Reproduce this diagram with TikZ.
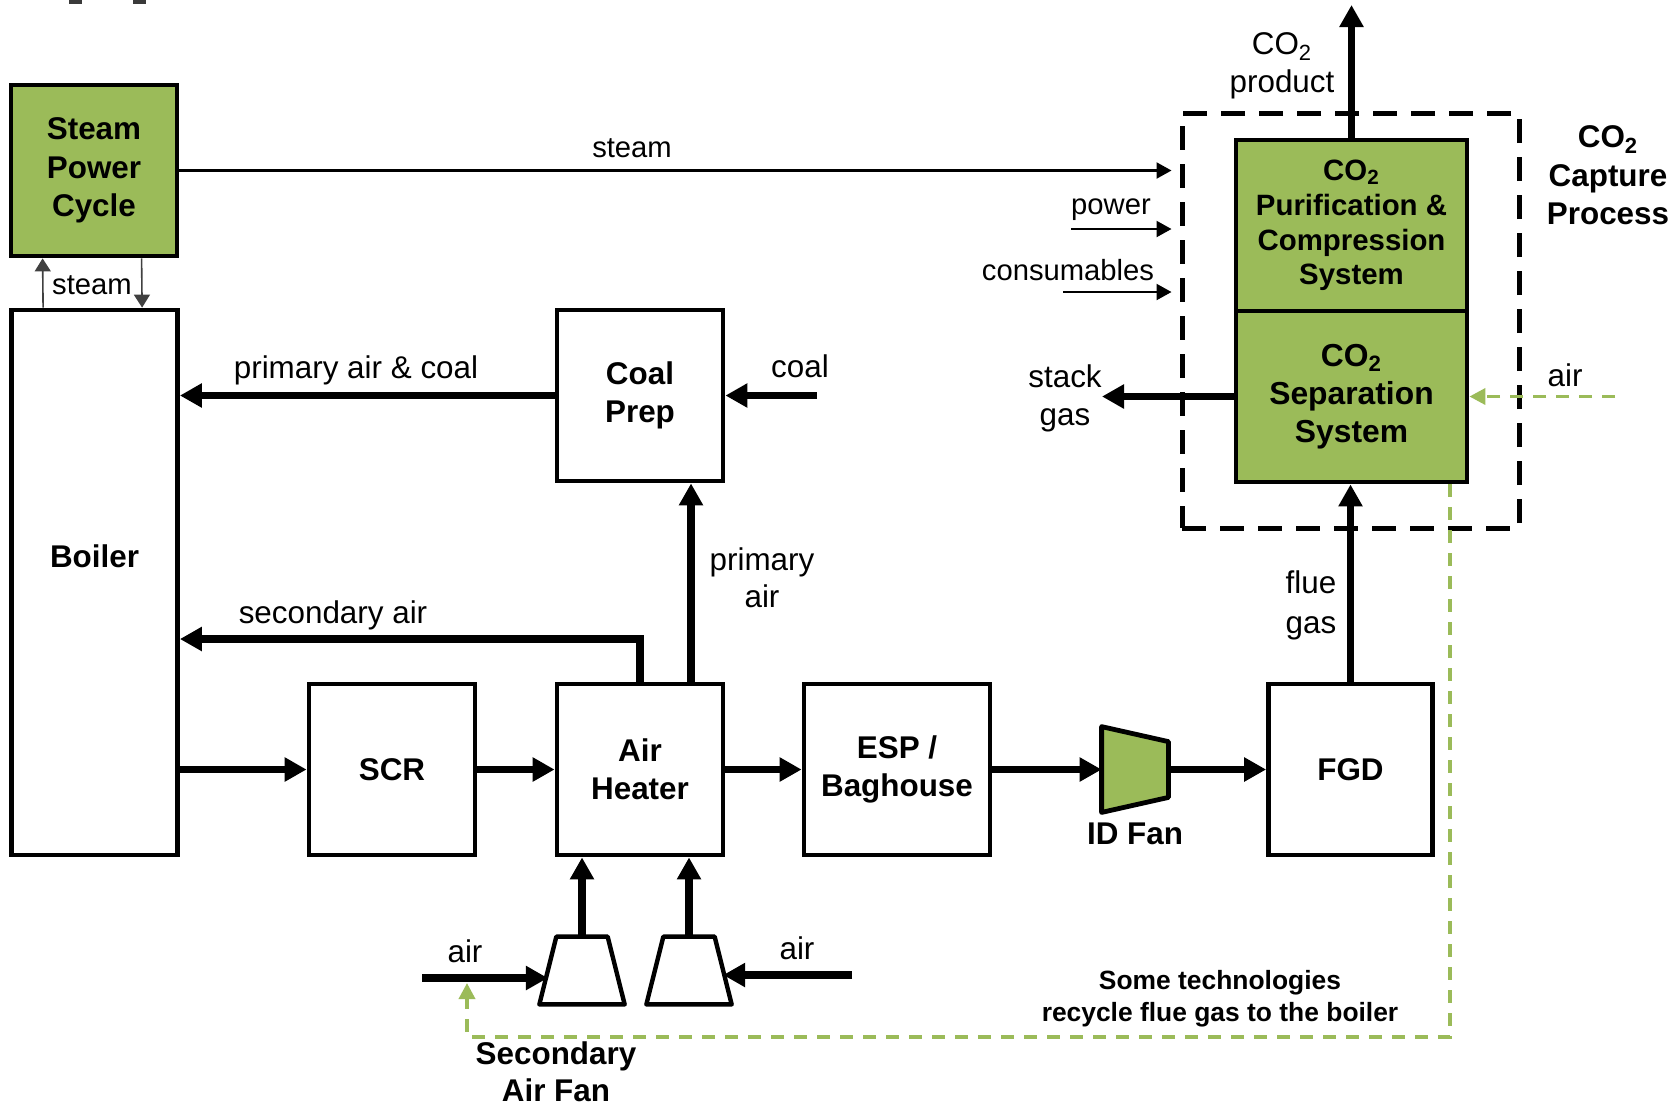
\documentclass[tikz,border=0pt]{standalone}
\usepackage{fontspec}
\setmainfont{Liberation Sans}
\usepackage{tikz}
\usetikzlibrary{arrows.meta,positioning,calc}
\definecolor{unitgreen}{RGB}{155,187,89}
\definecolor{steamgray}{RGB}{64,64,64}
\definecolor{specgray}{RGB}{58,58,58}

\begin{document}
\begin{tikzpicture}[
  x=0.5pt, y=-0.5pt,
  unitbox/.style={draw, line width=2.4pt, minimum width=83pt, minimum height=85.5pt,
                  inner sep=0pt, align=center, font=\bfseries\fontsize{15.7}{19.2}\selectfont},
  greenbox/.style={unitbox, fill=unitgreen, minimum width=115.5pt},
  fanspot/.style={minimum width=33.75pt, minimum height=33.5pt, inner sep=0pt},
  fanline/.style={line width=2.2pt, line join=round},
  arr/.style={-{Triangle[length=11pt,width=11.5pt]}, line width=3.6pt},
  thinarr/.style={-{Triangle[length=7.5pt,width=8pt]}, line width=1.1pt},
  steamarr/.style={-{Triangle[length=6.5pt,width=8pt]}, line width=0.8pt, draw=steamgray},
  recyc/.style={-{Triangle[length=8pt,width=8pt]}, unitgreen, line width=1.8pt,
                dash pattern=on 6.5pt off 5pt},
  lbl/.style={font=\fontsize{15.7}{19}\selectfont, align=center, inner sep=0pt},
  slbl/.style={font=\fontsize{14.6}{17}\selectfont, inner sep=0pt},
  boldlbl/.style={font=\bfseries\fontsize{15.7}{18.5}\selectfont, align=center, inner sep=0pt},
  note/.style={font=\bfseries\fontsize{13.2}{16}\selectfont, align=center, inner sep=0pt}
]
\useasboundingbox (0,0) rectangle (1675,1105);
\fill[specgray] (69,0) rectangle (82,4);
\fill[specgray] (133,0) rectangle (146,4);

% process units
\node[unitbox, fill=unitgreen] (spc) at (94,170.5) {Steam\\Power\\Cycle};
\node[unitbox, minimum height=272.5pt] (boiler) at (94.5,582.5) {\raisebox{26pt}{Boiler}};
\node[unitbox] (coalprep) at (640,395.5) {Coal\\Prep};
\node[unitbox] (scr) at (392,769.5) {SCR};
\node[unitbox] (ah) at (640,769.5) {Air\\Heater};
\node[unitbox, minimum width=93pt] (esp) at (897,769.5) {ESP /\\Baghouse};
\node[unitbox, minimum width=82pt] (fgd) at (1350.5,769.5) {FGD};

% capture process
\node[draw, line width=2.5pt, dash pattern=on 12pt off 7pt, minimum width=168.5pt,
      minimum height=207.5pt, inner sep=0pt] (capbox) at (1350.5,320.5) {};
\node[greenbox, font=\bfseries\fontsize{14.7}{17.4}\selectfont] (pur) at (1351.5,225.5)
  {CO\textsubscript{2}\\Purification \&\\Compression\\System};
\node[greenbox, font=\bfseries\fontsize{15.9}{19}\selectfont] (sep) at (1351.5,396.5)
  {CO\textsubscript{2}\\Separation\\System};
\node[boldlbl, font=\bfseries\fontsize{15.7}{19.2}\selectfont] at (1608,175.5)
  {CO\textsubscript{2}\\Capture\\Process};

% fans
\node[minimum width=33pt, minimum height=42.5pt, inner sep=0pt] (idfan) at (1135,769.5) {};
\draw[fanline, line width=2.4pt, fill=unitgreen]
  (idfan.north west) -- ($(idfan.north east)+(0,15)$) -- ($(idfan.south east)+(0,-15)$)
  -- (idfan.south west) -- cycle;
\node[boldlbl, below=5pt of idfan] {ID Fan};
\node[fanspot] (fan1) at (582,970.5) {};
\node[fanspot] (fan2) at (689,970.5) {};
\foreach \f in {fan1,fan2}
  \draw[fanline] ($(\f.north west)+(8.5,0)$) -- ($(\f.north east)+(-8.5,0)$)
    -- ($(\f.south east)+(8.5,0)$) -- ($(\f.south west)+(-8.5,0)$) -- cycle;
\node[boldlbl] at (556,1071.5) {Secondary\\Air Fan};

% free ends
\coordinate (pwr) at (1071,229);
\coordinate (cons) at (1063,292);
\coordinate (co2out) at (1351.5,5);
\coordinate (stackout) at (1102,396.5);
\coordinate (airin) at (1615,396.5);
\coordinate (coalin) at (817,395.5);
\coordinate (airL) at (422,978);
\coordinate (airR) at (852,975);
\coordinate (rcy) at (1450,1037);
\coordinate (rcytip) at (467,983);

% steam and utilities
\draw[thinarr, shorten >=4pt] (spc.east) -- (spc.east -| capbox.west);
\node[slbl] at (632,148) {steam};
\draw[thinarr, shorten >=4pt] (pwr) -- (pwr -| capbox.west);
\node[slbl] at (1111,210) {power};
\draw[thinarr, shorten >=4pt] (cons) -- (cons -| capbox.west);
\node[slbl] at (1068,270) {consumables};
\draw[steamarr] ($(boiler.north west)+(34,0)$) -- ($(spc.south west)+(34,0)$);
\draw[steamarr] ($(spc.south west)+(133,0)$) -- ($(boiler.north west)+(133,0)$);
\node[slbl] at (92,285) {steam};

% capture streams
\draw[arr] (pur.north) -- (co2out);
\node[lbl] at (1282,66) {CO\textsubscript{2}\\product};
\draw[arr] (sep.west) -- (stackout);
\node[lbl] at (1065,398) {stack\\gas};
\draw[recyc] (airin) -- (sep.east);
\node[lbl] at (1565,375) {air};
\draw[arr] (fgd.north) -- (fgd.north |- sep.south);
\node[lbl, font=\fontsize{15.7}{20}\selectfont] at (1311,605) {flue\\gas};
\draw[recyc] (sep.south -| rcy) -- (rcy) -- (rcy -| rcytip) -- (rcytip);
\node[note] at (1220,999) {Some technologies\\recycle flue gas to the boiler};

% boiler side
\draw[arr] (coalprep.west) -- (coalprep.west -| boiler.east);
\node[lbl] at (356,370) {primary air \& coal};
\draw[arr] (coalin) -- (coalprep.east);
\node[lbl] at (800,366) {coal};
\draw[arr] ($(ah.north)+(51,0)$) -- ($(coalprep.south)+(51,0)$);
\node[lbl, font=\fontsize{15.7}{18.5}\selectfont] at (762,577.5) {primary\\air};
\draw[arr] (ah.north) |- ($(boiler.east)+(0,56.5)$);
\node[lbl] at (333,615) {secondary air};

% flue gas train
\draw[arr] (scr.west -| boiler.east) -- (scr.west);
\draw[arr] (scr) -- (ah);
\draw[arr] (ah) -- (esp);
\draw[arr] (esp) -- (idfan);
\draw[arr] (idfan) -- (fgd);

% secondary air fans
\draw[arr] (fan1.north) -- (fan1.north |- ah.south);
\draw[arr] (fan2.north) -- (fan2.north |- ah.south);
\draw[arr] (airL) -- (airL -| fan1.west);
\node[lbl] at (465,951) {air};
\draw[arr] (airR) -- (airR -| fan2.east);
\node[lbl] at (797,948) {air};
\end{tikzpicture}
\end{document}
